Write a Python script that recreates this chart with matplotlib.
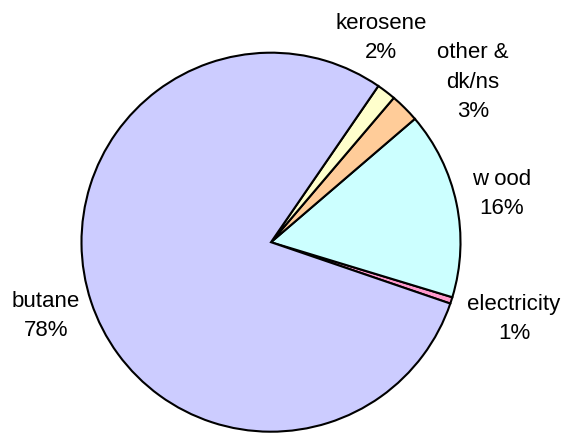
import matplotlib
matplotlib.use("Agg")
import matplotlib.pyplot as plt

# shares (counterclockwise from electricity)
fuels = ["electricity", "wood", "other &\ndk/ns", "kerosene", "butane"]
shares = [0.56, 15.97, 2.50, 1.64, 79.33]
pct_labels = ["1%", "16%", "3%", "2%", "78%"]
shown_names = ["electricity", "w ood", "other &\ndk/ns", "kerosene", "butane"]
colors = ["#FF99CC", "#CCFFFF", "#FFCC99", "#FFFFCC", "#CCCCFF"]

W, H = 566, 433
fig = plt.figure(figsize=(W / 100, H / 100), dpi=100)
ax = fig.add_axes([0, 0, 1, 1])

ax.pie(shares, colors=colors, startangle=-18.9, counterclock=True,
       center=(271, H - 242.2), radius=189.5, frame=True,
       wedgeprops=dict(edgecolor="black", linewidth=1.5))
ax.set_xlim(0, W)
ax.set_ylim(0, H)
ax.set_aspect("equal")
ax.axis("off")

# label centres in pixel coords (x, y from top)
label_pos = [(514, 319), (502, 194), (473, 82), (381, 38), (46, 316)]
for name, pct, (x, y) in zip(shown_names, pct_labels, label_pos):
    ax.text(x, H - y, name + "\n" + pct, ha="center", va="center",
            fontsize=16, family="Liberation Sans", linespacing=1.55)

fig.savefig("out.png", dpi=100)
